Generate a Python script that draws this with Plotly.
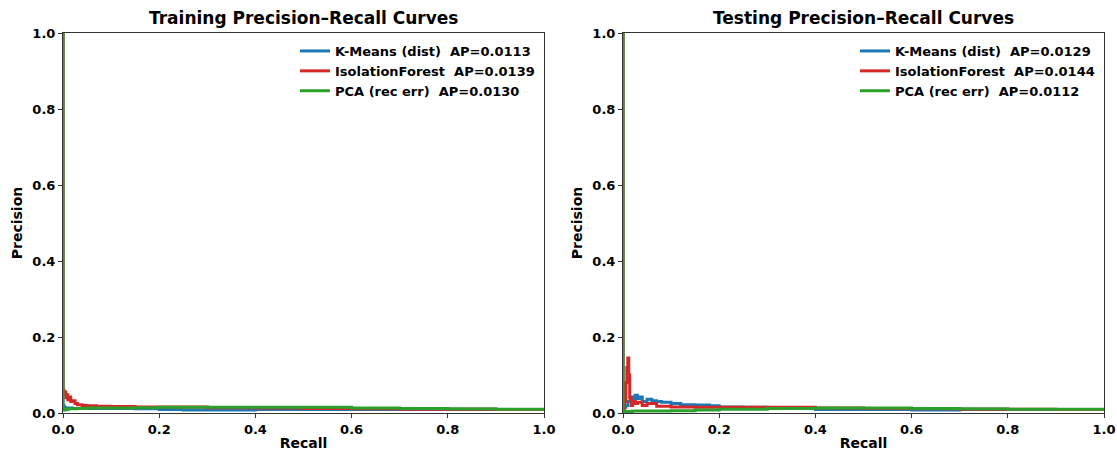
import plotly.graph_objects as go

# ---------- data ----------
train_km_recall = [0.0, 0.0, 0.002, 0.005, 0.01, 0.02, 0.05, 0.1, 0.15, 0.2, 0.25, 0.3, 0.4, 0.5, 0.6, 0.7, 0.8, 0.9, 1.0]
train_km_prec   = [1.0, 0.02, 0.015, 0.012, 0.013, 0.012, 0.012, 0.012, 0.011, 0.009, 0.008, 0.008, 0.009, 0.009, 0.009, 0.009, 0.009, 0.009, 0.009]

train_if_recall = [0.0, 0.0, 0.002, 0.004, 0.006, 0.008, 0.01, 0.013, 0.016, 0.02, 0.025, 0.03, 0.04, 0.05, 0.07, 0.1, 0.15, 0.2, 0.3, 0.4, 0.5, 0.6, 0.7, 0.8, 0.9, 1.0]
train_if_prec   = [1.0, 0.06, 0.05, 0.055, 0.04, 0.048, 0.035, 0.042, 0.03, 0.032, 0.025, 0.022, 0.02, 0.019, 0.018, 0.017, 0.016, 0.016, 0.014, 0.013, 0.012, 0.011, 0.010, 0.010, 0.009, 0.009]

train_pca_recall = [0.0, 0.0, 0.002, 0.005, 0.01, 0.03, 0.05, 0.1, 0.15, 0.2, 0.3, 0.4, 0.5, 0.6, 0.7, 0.8, 0.9, 1.0]
train_pca_prec   = [1.0, 0.01, 0.008, 0.009, 0.011, 0.012, 0.013, 0.013, 0.014, 0.015, 0.015, 0.015, 0.015, 0.013, 0.012, 0.011, 0.010, 0.009]

test_km_recall = [0.0, 0.0, 0.003, 0.006, 0.01, 0.015, 0.02, 0.025, 0.03, 0.035, 0.04, 0.05, 0.06, 0.07, 0.08, 0.1, 0.12, 0.15, 0.18, 0.2, 0.25, 0.3, 0.4, 0.5, 0.6, 0.7, 0.8, 0.9, 1.0]
test_km_prec   = [1.0, 0.01, 0.015, 0.02, 0.03, 0.042, 0.035, 0.047, 0.038, 0.042, 0.03, 0.036, 0.032, 0.03, 0.028, 0.025, 0.022, 0.021, 0.019, 0.016, 0.015, 0.012, 0.009, 0.009, 0.008, 0.009, 0.009, 0.009, 0.009]

test_if_recall = [0.0, 0.0, 0.003, 0.006, 0.008, 0.01, 0.012, 0.014, 0.017, 0.02, 0.025, 0.03, 0.04, 0.05, 0.07, 0.1, 0.15, 0.2, 0.3, 0.4, 0.5, 0.6, 0.7, 0.8, 0.9, 1.0]
test_if_prec   = [1.0, 0.0, 0.03, 0.08, 0.12, 0.145, 0.1, 0.04, 0.02, 0.03, 0.025, 0.028, 0.02, 0.025, 0.018, 0.016, 0.015, 0.015, 0.015, 0.013, 0.012, 0.011, 0.010, 0.010, 0.009, 0.009]

test_pca_recall = [0.0, 0.0, 0.005, 0.02, 0.05, 0.1, 0.15, 0.2, 0.3, 0.4, 0.5, 0.6, 0.7, 0.8, 0.9, 1.0]
test_pca_prec   = [1.0, 0.004, 0.004, 0.005, 0.005, 0.006, 0.008, 0.01, 0.012, 0.013, 0.013, 0.012, 0.011, 0.010, 0.010, 0.009]

train_ap = {"km": "0.0113", "if": "0.0139", "pca": "0.0130"}
test_ap = {"km": "0.0129", "if": "0.0144", "pca": "0.0112"}

titles = ["Training Precision\u2013Recall Curves", "Testing Precision\u2013Recall Curves"]
tick_vals = [0.0, 0.2, 0.4, 0.6, 0.8, 1.0]
tick_text = ["0.0", "0.2", "0.4", "0.6", "0.8", "1.0"]

BLUE, RED, GREEN = "#1f77b4", "#d62728", "#2ca02c"
FONT = "DejaVu Sans"
NB = "\u00a0"

fig = go.Figure()

def add_panel(idx, km, iff, pca, ap):
    xa = "x" if idx == 1 else "x2"
    ya = "y" if idx == 1 else "y2"
    lg = "legend" if idx == 1 else "legend2"
    names = [f"K-Means (dist){NB}{NB}AP={ap['km']}",
             f"IsolationForest{NB}{NB}AP={ap['if']}",
             f"PCA (rec err){NB}{NB}AP={ap['pca']}"]
    for (rx, py), col, nm in zip([km, iff, pca], [BLUE, RED, GREEN], names):
        fig.add_trace(go.Scatter(x=rx, y=py, mode="lines", name=nm,
                                 line=dict(color=col, width=3, shape="hv"),
                                 xaxis=xa, yaxis=ya, legend=lg))

add_panel(1, (train_km_recall, train_km_prec), (train_if_recall, train_if_prec),
          (train_pca_recall, train_pca_prec), train_ap)
add_panel(2, (test_km_recall, test_km_prec), (test_if_recall, test_if_prec),
          (test_pca_recall, test_pca_prec), test_ap)

W, H = 1117, 455

def px(x):
    return x / W

def py_(y):
    return 1 - y / H

dom_x1 = [px(63), px(544)]
dom_x2 = [px(623), px(1104)]
dom_y = [py_(413), py_(33)]

axis_common = dict(range=[0, 1], showgrid=False, zeroline=False, showline=True,
                   linecolor="#333333", linewidth=1, mirror=True, ticks="outside",
                   ticklen=4, tickcolor="#333333", tickvals=tick_vals, ticktext=tick_text,
                   automargin=False,
                   tickfont=dict(family=FONT, size=13, color="black", weight="bold"))

leg_common = dict(xanchor="right", yanchor="top", bgcolor="rgba(255,255,255,0)",
                  font=dict(family=FONT, size=13, weight="bold"),
                  tracegroupgap=0, itemwidth=30)

fig.update_layout(
    width=W, height=H,
    margin=dict(l=0, r=0, t=0, b=0, autoexpand=False),
    paper_bgcolor="white", plot_bgcolor="white",
    font=dict(family=FONT, color="black"),
    xaxis=dict(domain=dom_x1, anchor="y",
               title=dict(text="<b>Recall</b>", font=dict(size=14), standoff=2), **axis_common),
    yaxis=dict(domain=dom_y, anchor="x",
               title=dict(text="<b>Precision</b>", font=dict(size=14), standoff=6), **axis_common),
    xaxis2=dict(domain=dom_x2, anchor="y2",
                title=dict(text="<b>Recall</b>", font=dict(size=14), standoff=2), **axis_common),
    yaxis2=dict(domain=dom_y, anchor="x2",
                title=dict(text="<b>Precision</b>", font=dict(size=14), standoff=6), **axis_common),
    legend=dict(x=px(540), y=py_(36), **leg_common),
    legend2=dict(x=px(1100), y=py_(36), **leg_common),
    showlegend=True,
)

for t, dom in zip(titles, [dom_x1, dom_x2]):
    fig.add_annotation(text=f"<b>{t}</b>", x=(dom[0] + dom[1]) / 2, y=py_(18),
                       xref="paper", yref="paper", showarrow=False,
                       font=dict(family=FONT, size=17, color="black"),
                       xanchor="center", yanchor="middle")

fig.write_html(
    "out.html",
    config={"displayModeBar": False},
    post_script="document.body.style.margin='0';"
                "document.documentElement.style.overflow='hidden';"
                "document.body.style.overflow='hidden';",
)
